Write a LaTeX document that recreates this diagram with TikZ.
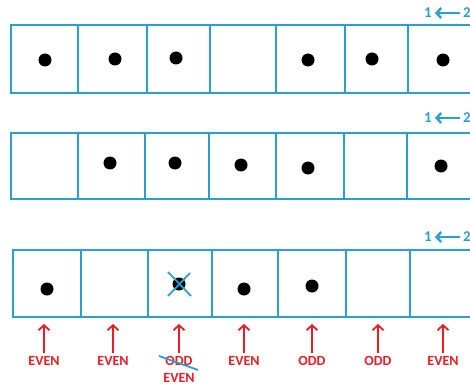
\documentclass[tikz,border=0pt]{standalone}
\usepackage{fontspec}
\setmainfont{Carlito}
\usetikzlibrary{arrows.meta}
\definecolor{cellblue}{RGB}{41,160,212}
\definecolor{lblred}{RGB}{237,28,36}
\begin{document}
\begin{tikzpicture}[x=1pt,y=-1pt,
  cellline/.style={draw=cellblue,line width=1.8pt},
  dot/.style={fill=black},
  toplbl/.style={text=cellblue,font=\fontsize{15}{17}\selectfont\bfseries,inner sep=0pt},
  toparrow/.style={draw=cellblue,line width=2.4pt,-{Straight Barb[length=4.5pt,width=10pt]}},
  redlbl/.style={text=lblred,font=\fontsize{14}{16}\selectfont\bfseries,inner sep=0pt},
  redarrow/.style={draw=lblred,line width=1.8pt,-{Straight Barb[length=5pt,width=11pt]}},
  strike/.style={draw=cellblue,line width=1.8pt}]
\useasboundingbox (0,0) rectangle (470,390);
% row 1
\draw[cellline] (11,25) rectangle (480,93);
\foreach \x in {78,147,210,276,345,408} \draw[cellline] (\x,25) -- (\x,93);
\foreach \p in {(45,60),(115,59),(176,58),(308,60),(372,59),(443,60)} \fill[dot] \p circle (6.5);
\node[toplbl] (a1) at (428,13) {1};
\node[toplbl,anchor=west] (b1) at (463,13) {2};
\draw[toparrow] (b1.west) ++(-3,0) -- ([xshift=3pt]a1.east);
% row 2
\draw[cellline] (11,133) rectangle (480,199);
\foreach \x in {78,145,209,276,344,407} \draw[cellline] (\x,133) -- (\x,199);
\foreach \p in {(110,163),(175,163),(241,165),(308,168),(441,166)} \fill[dot] \p circle (6.5);
\node[toplbl] (a2) at (428,118) {1};
\node[toplbl,anchor=west] (b2) at (463,118) {2};
\draw[toparrow] (b2.west) ++(-3,0) -- ([xshift=3pt]a2.east);
% row 3
\draw[cellline] (13,250) rectangle (480,317);
\foreach \x in {81,148,212,278,346,410} \draw[cellline] (\x,250) -- (\x,317);
\foreach \p in {(47,289),(179,284),(244,289),(312,286)} \fill[dot] \p circle (6.5);
\draw[strike] (168,272) -- (191,296);
\draw[strike] (168,296) -- (190,273);
\node[toplbl] (a3) at (428,237) {1};
\node[toplbl,anchor=west] (b3) at (463,237) {2};
\draw[toparrow] (b3.west) ++(-3,0) -- ([xshift=3pt]a3.east);
% labels
\node[redlbl] (l1) at (44,361) {EVEN};
\node[redlbl] (l2) at (113,361) {EVEN};
\node[redlbl] (l3) at (179,361) {ODD};
\node[redlbl] (l3b) at (179,378) {EVEN};
\node[redlbl] (l4) at (244,361) {EVEN};
\node[redlbl] (l5) at (312,361) {ODD};
\node[redlbl] (l6) at (378,361) {ODD};
\node[redlbl] (l7) at (443,361) {EVEN};
\draw[strike] (159,356) -- (198,370);
\foreach \n/\x in {l1/44,l2/113,l3/179,l4/244,l5/312,l6/378,l7/443} {
  \coordinate (t\n) at (\x,324);
  \draw[redarrow] (\n.north) ++(0,-3) -- (t\n);
}
\end{tikzpicture}
\end{document}
